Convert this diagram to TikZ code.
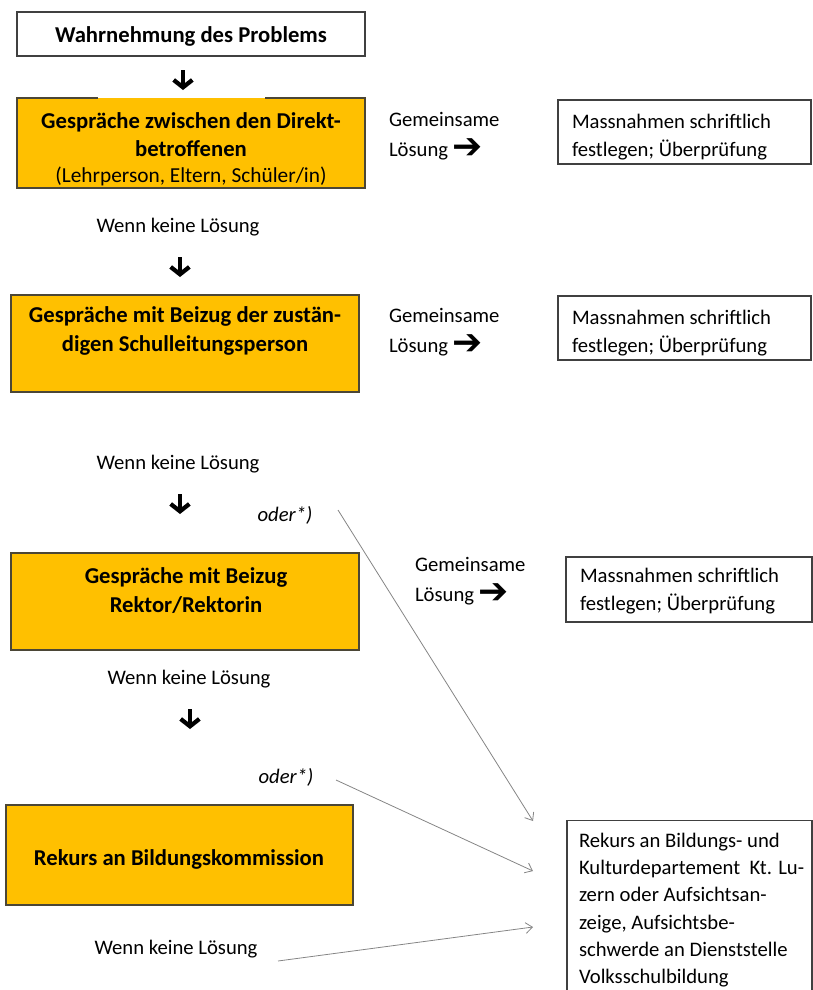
\documentclass[tikz,border=0pt]{standalone}
\usepackage{fontspec}
\setmainfont{Carlito}
\newfontfamily\symf{DejaVu Sans}
\usetikzlibrary{arrows.meta}
\definecolor{gold}{HTML}{FFC000}
\definecolor{obord}{HTML}{4B4636}
\definecolor{gbord}{HTML}{404040}
\definecolor{lgray}{HTML}{858585}
\newcommand\rarr{\raisebox{-1.5pt}{\smash{\symf\fontsize{27}{27}\selectfont ➔}}}
\begin{document}
\begin{tikzpicture}[x=0.75pt,y=-0.75pt,
  every node/.style={inner sep=0pt, outer sep=0pt},
  txt/.style={font=\fontsize{15.5}{21}\selectfont},
  btxt/.style={font=\fontsize{17}{21.5}\selectfont\bfseries},
  wbox/.style={draw=gbord, line width=0.8pt, fill=white},
  obox/.style={draw=obord, line width=0.8pt, fill=gold},
  ofill/.style={fill=gold},
  bord/.style={draw=obord, line width=0.8pt},
  dnarrow/.style={line width=3.2pt, line join=miter, -{Straight Barb[length=5.5pt,width=14pt]}},
  thinarrow/.style={draw=lgray, line width=0.6pt, -{Straight Barb[length=5pt,width=8pt]}},
  lsg/.style={font=\fontsize{15.5}{22}\selectfont, align=left, anchor=west}]
\useasboundingbox (0,0) rectangle (813,990);
\clip (0,0) rectangle (813,990);

% left column boxes
\node[wbox, minimum width=261pt, minimum height=33pt] (b1) at (191,34) {};
\node[btxt] (t1) at (191,36) {Wahrnehmung des Problems};

\node[ofill, minimum width=261pt, minimum height=67.5pt] (b2) at (191,143) {};
\draw[bord] ([xshift=60.75pt]b2.north west) -- (b2.north west) -- (b2.south west) -- (b2.south east) -- (b2.north east) -- ([xshift=-75pt]b2.north east);
\node[btxt, align=center] (t2) at (191,149) {Gespräche zwischen den Direkt-\\betroffenen\\[-2.5pt]{\mdseries\fontsize{16}{20}\selectfont (Lehrperson, Eltern, Schüler/in)}};

\node[obox, minimum width=261pt, minimum height=72.75pt] (b3) at (185,343.5) {};
\node[btxt, align=center] (t3) at (185,331) {Gespräche mit Beizug der zustän-\\digen Schulleitungsperson};

\node[obox, minimum width=261pt, minimum height=72.75pt] (b4) at (185,601.5) {};
\node[btxt, align=center] (t4) at (186,590.5) {Gespräche mit Beizug\\Rektor/Rektorin};

\node[obox, minimum width=260.25pt, minimum height=75pt] (b5) at (179.5,855) {};
\node[btxt] (t5) at (179,859) {Rekurs an Bildungskommission};

% right column boxes
\node[wbox, minimum width=189.75pt, minimum height=48pt] (r1) at (684.5,132) {};
\node[txt, align=left, anchor=west] (r1t) at (572,137) {Massnahmen schriftlich\\festlegen; Überprüfung};
\node[wbox, minimum width=189.75pt, minimum height=48pt] (r2) at (684.5,328) {};
\node[txt, align=left, anchor=west] (r2t) at (572,333) {Massnahmen schriftlich\\festlegen; Überprüfung};
\node[wbox, minimum width=184.5pt, minimum height=48.75pt] (r3) at (689,589.5) {};
\node[txt, align=left, anchor=west] (r3t) at (580,591.5) {Massnahmen schriftlich\\festlegen; Überprüfung};
\node[wbox, minimum width=183.75pt, minimum height=140pt] (r4) at (689.5,914) {};
\node[font=\fontsize{15.5}{20.3}\selectfont, align=left, anchor=north west] (r4t) at (579,833.5) {Rekurs an Bildungs- und\\Kulturdepartement~ Kt. Lu-\\zern oder Aufsichtsan-\\zeige, Aufsichtsbe-\\schwerde an Dienststelle\\Volksschulbildung};

% Gemeinsame Loesung labels
\node[lsg] (g1) at (389,136) {Gemeinsame\\Lösung \rarr};
\node[lsg] (g2) at (389,332) {Gemeinsame\\Lösung \rarr};
\node[lsg] (g3) at (415,581) {Gemeinsame\\Lösung \rarr};

% Wenn keine Loesung
\node[txt] (w1) at (178,227) {Wenn keine Lösung};
\node[txt] (w2) at (178,464) {Wenn keine Lösung};
\node[txt] (w3) at (189,679) {Wenn keine Lösung};
\node[txt] (w4) at (176,949) {Wenn keine Lösung};

% oder
\node[txt] (o1) at (285,515) {\itshape oder*)};
\node[txt] (o2) at (286,777) {\itshape oder*)};

% down arrows
\coordinate (a1s) at (183,70); \coordinate (a1e) at (183,90);
\coordinate (a2s) at (180,257); \coordinate (a2e) at (180,277);
\coordinate (a3s) at (180,494); \coordinate (a3e) at (180,514);
\coordinate (a4s) at (190,709); \coordinate (a4e) at (190,729);
\draw[dnarrow] (a1s) -- (a1e);
\draw[dnarrow] (a2s) -- (a2e);
\draw[dnarrow] (a3s) -- (a3e);
\draw[dnarrow] (a4s) -- (a4e);

% thin arrows
\coordinate (l1s) at (338,510); \coordinate (l1e) at (533,821);
\coordinate (l2s) at (336,780); \coordinate (l2e) at (533,871);
\coordinate (l3s) at (278,961); \coordinate (l3e) at (533,927);
\draw[thinarrow] (l1s) -- (l1e);
\draw[thinarrow] (l2s) -- (l2e);
\draw[thinarrow] (l3s) -- (l3e);
\end{tikzpicture}
\end{document}
